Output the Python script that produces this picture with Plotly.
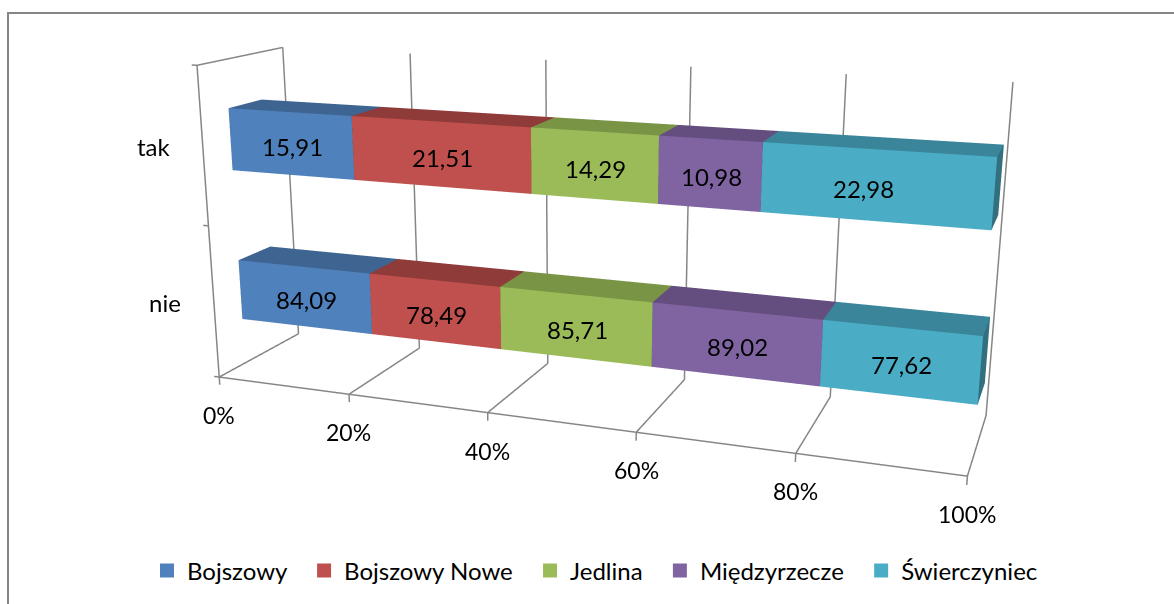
import plotly.graph_objects as go

categories = ["nie", "tak"]
series_names = ["Bojszowy", "Bojszowy Nowe", "Jedlina", "Międzyrzecze", "Świerczyniec"]
bojszowy = [84.09, 15.91]
bojszowy_nowe = [78.49, 21.51]
jedlina = [85.71, 14.29]
miedzyrzecze = [89.02, 10.98]
swierczyniec = [77.62, 22.98]
series_values = [bojszowy, bojszowy_nowe, jedlina, miedzyrzecze, swierczyniec]
front_colors = ["#4F81BD", "#C0504D", "#9BBB59", "#8064A2", "#4BACC6"]
top_colors = ["#3E6492", "#8E3B39", "#7A9446", "#644E80", "#3A859A"]
side_colors = ["#34557C", "#7A3331", "#67803C", "#54426C", "#32707F"]
x_ticks = [0, 20, 40, 60, 80, 100]
z_ticks = [0, 50, 100]

W, H, SHIFT = 1174, 1240, 320
XR, YR, ZR = (-1, 102), (-2, 102), (-3, 102)
eye = [0.93535, -2.6015, 0.68749]
cen = [0.82645, -2.3025, 0.59499]
up = [-0.4455, 1.2182, 1.0]
ax_ratio, ay, az = 1.5297, 0.32427, 0.66211
y0, y1 = 30.9647, 70.1247
zs = [15.1866, 35.1226, 64.8055, 84.6749]


def py(v):
    return 1 - (v + SHIFT) / H


traces = []
n = len(series_names)
for s in range(n):
    X = []; Y = []; Z = []; I = []; J = []; K = []; FC = []
    for c in range(2):
        total = sum(v[c] for v in series_values)
        lo = sum(series_values[k][c] for k in range(s)) / total * 100
        hi = lo + series_values[s][c] / total * 100
        zl, zh = zs[2 * c], zs[2 * c + 1]
        b = len(X)
        for xx, yy, zz in [(lo, y0, zl), (hi, y0, zl), (hi, y1, zl), (lo, y1, zl),
                           (lo, y0, zh), (hi, y0, zh), (hi, y1, zh), (lo, y1, zh)]:
            X.append(xx); Y.append(yy); Z.append(zz)
        quads = [((0, 1, 5, 4), front_colors[s]), ((4, 5, 6, 7), top_colors[s]), ((1, 2, 6, 5), side_colors[s]),
                 ((0, 3, 7, 4), side_colors[s]), ((3, 2, 6, 7), side_colors[s]), ((0, 1, 2, 3), side_colors[s])]
        for q, col in quads:
            I += [b + q[0], b + q[0]]; J += [b + q[1], b + q[2]]; K += [b + q[2], b + q[3]]; FC += [col, col]
    traces.append(go.Mesh3d(x=X, y=Y, z=Z, i=I, j=J, k=K, facecolor=FC, name=series_names[s],
                            showlegend=False, flatshading=True, hoverinfo="skip",
                            lighting=dict(ambient=1, diffuse=0, specular=0, fresnel=0, roughness=1)))

lx = []; ly = []; lz = []


def seg(a, b):
    lx.extend([a[0], b[0], None]); ly.extend([a[1], b[1], None]); lz.extend([a[2], b[2], None])


for t in x_ticks:
    seg((t, 100, 100), (t, 100, 0)); seg((t, 100, 0), (t, 0, 0)); seg((t, 0, 0), (t, 0, -2.6))
seg((0, 0, 0), (100, 0, 0)); seg((0, 0, 0), (0, 0, 100)); seg((0, 0, 100), (0, 100, 100))
for t in z_ticks:
    seg((0, 0, t), (-0.8, 0, t))
traces.append(go.Scatter3d(x=lx, y=ly, z=lz, mode="lines", line=dict(color="#868686", width=3),
                           showlegend=False, hoverinfo="skip"))
for s in range(n):
    traces.append(go.Scatter3d(x=[None], y=[None], z=[None], mode="markers", name=series_names[s] + "\u00a0\u00a0",
                               marker=dict(symbol="square", size=14, color=front_colors[s]), hoverinfo="skip"))

ann = []
for s in range(n):
    for c in range(2):
        total = sum(v[c] for v in series_values)
        lo = sum(series_values[k][c] for k in range(s)) / total * 100
        mid = lo + series_values[s][c] / total * 50
        shift = -12 if (s == 4 and c == 1) else 2
        ann.append(dict(x=mid, y=y0, z=(zs[2 * c] + zs[2 * c + 1]) / 2,
                        text=f"{series_values[s][c]:.2f}".replace(".", ","), xshift=shift, yshift=-3,
                        showarrow=False, font=dict(family="Lato", size=24, color="#000")))
for t in x_ticks:
    ann.append(dict(x=t, y=0, z=0, text=f"{t}%", showarrow=False, yshift=-38,
                    font=dict(family="Lato", size=23, color="#000")))
for c, name in enumerate(categories):
    ann.append(dict(x=0, y=0, z=25 + 50 * c, text=name, showarrow=False, xshift=-49,
                    font=dict(family="Lato", size=24, color="#000")))

hidden = dict(visible=False)
fig = go.Figure(traces)
fig.update_layout(
    width=W, height=H, margin=dict(l=0, r=0, t=0, b=0), paper_bgcolor="white",
    font=dict(family="Lato", size=24, color="#000"),
    legend=dict(orientation="h", x=147 / W, xanchor="left", y=py(571), yanchor="middle", font=dict(size=24)),
    shapes=[dict(type="rect", xref="paper", yref="paper", x0=8 / W, x1=1.2, y0=-0.2, y1=py(13),
                 line=dict(color="#868686", width=2))],
    scene=dict(
        domain=dict(x=[0, 1], y=[0, 1]), aspectmode="manual",
        aspectratio=dict(x=ax_ratio, y=ay, z=az), dragmode="orbit",
        camera=dict(eye=dict(x=eye[0], y=eye[1], z=eye[2]), center=dict(x=cen[0], y=cen[1], z=cen[2]),
                    up=dict(x=up[0], y=up[1], z=up[2]), projection=dict(type="perspective")),
        xaxis=dict(hidden, range=list(XR)), yaxis=dict(hidden, range=list(YR)), zaxis=dict(hidden, range=list(ZR)),
        annotations=ann))
fig.write_html("out.html", post_script=f"document.documentElement.style.overflow='hidden';document.body.style.margin='-{SHIFT}px 0 0 0';")
